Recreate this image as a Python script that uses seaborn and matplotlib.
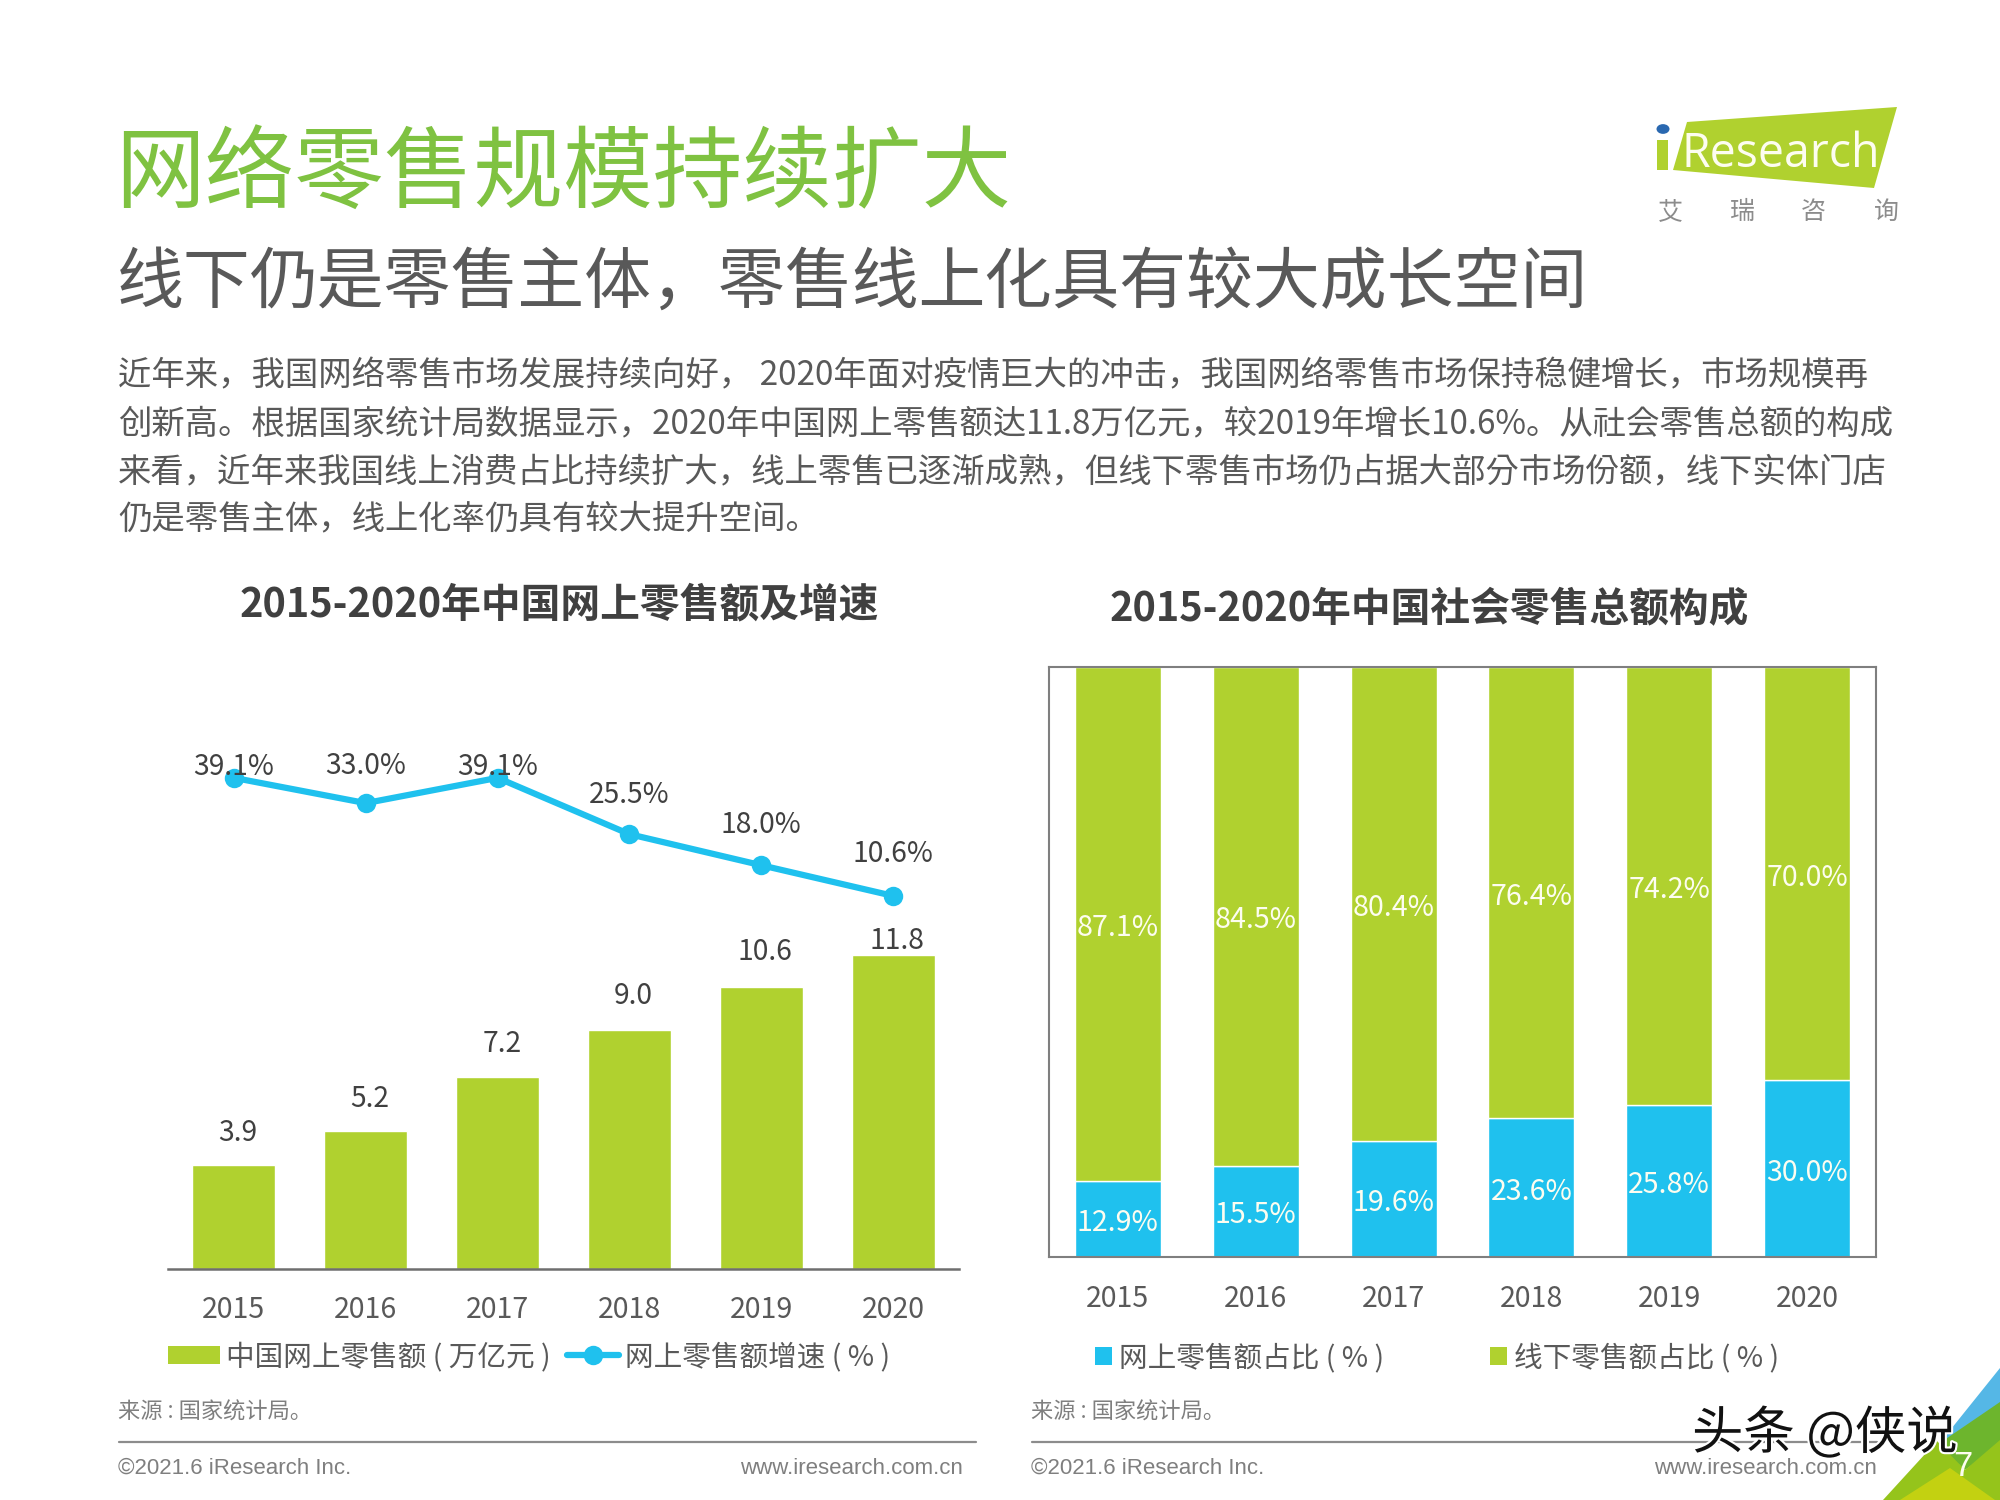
#!/usr/bin/env python3
"""iResearch slide: online retail size and share of total retail, 2015-2020."""
import pandas as pd
import matplotlib
matplotlib.use("Agg")
import matplotlib.pyplot as plt
import matplotlib.patheffects as pe
from matplotlib.lines import Line2D
from matplotlib.patches import Circle, Patch, Polygon, Rectangle
import seaborn as sns

# ── Data ──────────────────────────────────────────────────────────────
YEARS = ["2015", "2016", "2017", "2018", "2019", "2020"]
ONLINE_SALES = [3.9, 5.2, 7.2, 9.0, 10.6, 11.8]
SALES_GROWTH = [39.1, 33.0, 39.1, 25.5, 18.0, 10.6]
ONLINE_SHARE = [12.9, 15.5, 19.6, 23.6, 25.8, 30.0]
OFFLINE_SHARE = [87.1, 84.5, 80.4, 76.4, 74.2, 70.0]

TITLE = "网络零售规模持续扩大"
SUBTITLE = "线下仍是零售主体，零售线上化具有较大成长空间"
BODY_LINES = [
    "近年来，我国网络零售市场发展持续向好， 2020年面对疫情巨大的冲击，我国网络零售市场保持稳健增长，市场规模再",
    "创新高。根据国家统计局数据显示，2020年中国网上零售额达11.8万亿元，较2019年增长10.6%。从社会零售总额的构成",
    "来看，近年来我国线上消费占比持续扩大，线上零售已逐渐成熟，但线下零售市场仍占据大部分市场份额，线下实体门店",
    "仍是零售主体，线上化率仍具有较大提升空间。",
]

GREEN = "#b0d12f"
BLUE = "#1fc1ee"
TITLE_GREEN = "#7fc241"
DARK = "#404040"
MID = "#595959"
GREY = "#7f7f7f"

W, H = 2000, 1500

sns.set_theme(style="white")
plt.rcParams["font.family"] = ["Noto Sans CJK SC", "DejaVu Sans"]
plt.rcParams["axes.unicode_minus"] = False

# KR draws the full-width comma low and centred, closer to the slide
BODY_FONT = ["Noto Sans CJK KR", "DejaVu Sans"]

fig = plt.figure(figsize=(20, 15), dpi=100, facecolor="white")


def px_axes(x0, y0, x1, y1):
    """Axes from pixel box, y measured from the top of the slide."""
    return fig.add_axes([x0 / W, 1 - y1 / H, (x1 - x0) / W, (y1 - y0) / H])


def px_text(x, y, s, **kw):
    kw.setdefault("va", "center")
    return fig.text(x / W, 1 - y / H, s, **kw)


def px_poly(points, **kw):
    pts = [(x / W, 1 - y / H) for x, y in points]
    fig.add_artist(Polygon(pts, closed=True, transform=fig.transFigure, lw=0, **kw))


# ── Left chart: bars plus growth line ─────────────────────────────────
ax = px_axes(168, 700, 959, 1269)
df_left = pd.DataFrame({"year": YEARS, "sales": ONLINE_SALES, "growth": SALES_GROWTH})
sns.barplot(data=df_left, x="year", y="sales", color=GREEN, width=0.63,
            saturation=1, ax=ax)
ax.set_ylim(0, 21.39)
ax.set_xlim(-0.5, 5.5)
ax.set_xlabel("")
ax.set_ylabel("")
ax.set_yticks([])
sns.despine(ax=ax, left=True)
ax.spines["bottom"].set_color("#6e6e6e")
ax.spines["bottom"].set_linewidth(1.8)
ax.tick_params(axis="x", length=0, pad=19, labelsize=20.6, labelcolor=MID)

bar_dy = [23, 23, 24, 24, 25, 10]
for i, v in enumerate(ONLINE_SALES):
    ax.annotate(f"{v:.1f}", (i, v), xytext=(3, bar_dy[i]),
                textcoords="offset points", ha="center", va="center",
                fontsize=20.3, color=DARK)

ax2 = ax.twinx()
sns.lineplot(data=df_left, x="year", y="growth", color=BLUE, linewidth=4.5,
             marker="o", markersize=14, markeredgewidth=0, ax=ax2)
ax2.set_ylim(-79.5, 57.9)
ax2.set_xlim(-0.5, 5.5)
ax2.set_yticks([])
ax2.set_ylabel("")
for side in ("top", "left", "right", "bottom"):
    ax2.spines[side].set_visible(False)

growth_dy = [8, 27, 8, 28, 29, 30]
for i, v in enumerate(SALES_GROWTH):
    ax2.annotate(f"{v:.1f}%", (i, v), xytext=(0, growth_dy[i]),
                 textcoords="offset points", ha="center", va="center",
                 fontsize=20.3, color=DARK)

left_handles = [
    Patch(facecolor=GREEN, edgecolor="none"),
    Line2D([0], [0], color=BLUE, lw=4.5, marker="o", markersize=14, markeredgewidth=0),
]
fig.legend(left_handles, ["中国网上零售额 ( 万亿元 )", "网上零售额增速 ( % )"],
           loc="center", bbox_to_anchor=(529 / W, 1 - 1357 / H), ncol=2, frameon=False,
           fontsize=20.6, labelcolor=MID, handlelength=1.8, handleheight=0.6,
           handletextpad=0.2, columnspacing=0.6)

# ── Right chart: stacked share bars ───────────────────────────────────
bx = px_axes(1049, 667, 1876, 1257)
df_right = pd.DataFrame({"year": YEARS, "online": ONLINE_SHARE, "offline": OFFLINE_SHARE})
sns.barplot(data=df_right, x="year", y="online", color=BLUE, width=0.624,
            saturation=1, ax=bx)
sns.barplot(data=df_right, x="year", y="offline", bottom=df_right["online"],
            color=GREEN, width=0.624, saturation=1, ax=bx)
bx.set_ylim(0, 100)
bx.set_xlim(-0.5, 5.5)
bx.set_xlabel("")
bx.set_ylabel("")
bx.set_yticks([])
for side in bx.spines.values():
    side.set_color("#7f7f7f")
    side.set_linewidth(1.5)
bx.tick_params(axis="x", length=0, pad=19.5, labelsize=20.6, labelcolor=MID)
for cont in bx.containers:
    for lbl in bx.bar_label(cont, fmt="%.1f%%", label_type="center", fontsize=20.6,
                            color="#fdfdf0"):
        lbl.xyann = (0, -3)

right_handles = [Patch(facecolor=BLUE, edgecolor="none"), Patch(facecolor=GREEN, edgecolor="none")]
fig.legend(right_handles, ["网上零售额占比 ( % )", "线下零售额占比 ( % )"],
           loc="center", bbox_to_anchor=(1437 / W, 1 - 1358 / H), ncol=2, frameon=False,
           fontsize=20.6, labelcolor=MID, handlelength=0.58, handleheight=0.58,
           handletextpad=0.25, columnspacing=3.7)

# ── Slide text ────────────────────────────────────────────────────────
px_text(115, 176, TITLE, fontsize=64.5, color=TITLE_GREEN)
px_text(117, 284, SUBTITLE, fontsize=48.2, color=MID, family=BODY_FONT)
for y, line in zip([376, 424, 472, 519], BODY_LINES):
    px_text(118, y, line, fontsize=24, color=MID, family=BODY_FONT)

px_text(559, 605, "2015-2020年中国网上零售额及增速", fontsize=28.6, color=DARK,
        fontweight="bold", ha="center")
px_text(1429, 610, "2015-2020年中国社会零售总额构成", fontsize=28.6, color=DARK,
        fontweight="bold", ha="center")

for x in (118, 1031):
    px_text(x, 1412, "来源 : 国家统计局。", fontsize=16, color=GREY)
    px_text(x, 1468, "©2021.6 iResearch Inc.", fontsize=16, color=GREY,
            family="Liberation Sans")
for x in (963, 1877):
    px_text(x, 1468, "www.iresearch.com.cn", fontsize=16, color=GREY,
            family="Liberation Sans", ha="right")
for x0, x1 in ((119, 976), (1032, 1877)):
    fig.add_artist(Line2D([x0 / W, x1 / W], [1 - 1442 / H] * 2, color="#8c8c8c", lw=1.6))

# ── Logo ──────────────────────────────────────────────────────────────
px_poly([(1687, 122), (1897, 107), (1874, 188), (1673, 170)], facecolor=GREEN)
fig.add_artist(Rectangle((1657 / W, 1 - 170 / H), 11 / W, 30 / H, transform=fig.transFigure,
                         facecolor=GREEN, lw=0))
fig.add_artist(Circle((1663 / W, 1 - 129 / H), 6.5 / W, transform=fig.transFigure,
                      facecolor="#2a68b0", lw=0))
px_text(1681, 154, "Research", fontsize=33.5, color="#fdfdf0", family="Open Sans")
for x, ch in zip([1670, 1742, 1813, 1886], "艾瑞咨询"):
    px_text(x, 212, ch, fontsize=18, color="#8c8c8c", ha="center")

# ── Corner and watermark ──────────────────────────────────────────────
px_poly([(2000, 1368), (2000, 1412), (1935, 1449)], facecolor="#55b7e6")
px_poly([(2000, 1402), (2000, 1445), (1965, 1470), (1937, 1445)], facecolor="#6db52d")
px_poly([(1937, 1441), (1883, 1500), (2000, 1500), (2000, 1440), (1965, 1470)], facecolor="#95c41b")
px_poly([(1900, 1500), (1950, 1468), (1995, 1500)], facecolor="#c3d111")
px_text(1963, 1466, "7", fontsize=25, color="#fdfdf0", ha="center", family="Liberation Sans")
px_text(1692, 1434, "头条 @侠说", fontsize=37, color="#111111",
        path_effects=[pe.withStroke(linewidth=3, foreground="white")])

fig.savefig("out.png", dpi=100, facecolor="white")
